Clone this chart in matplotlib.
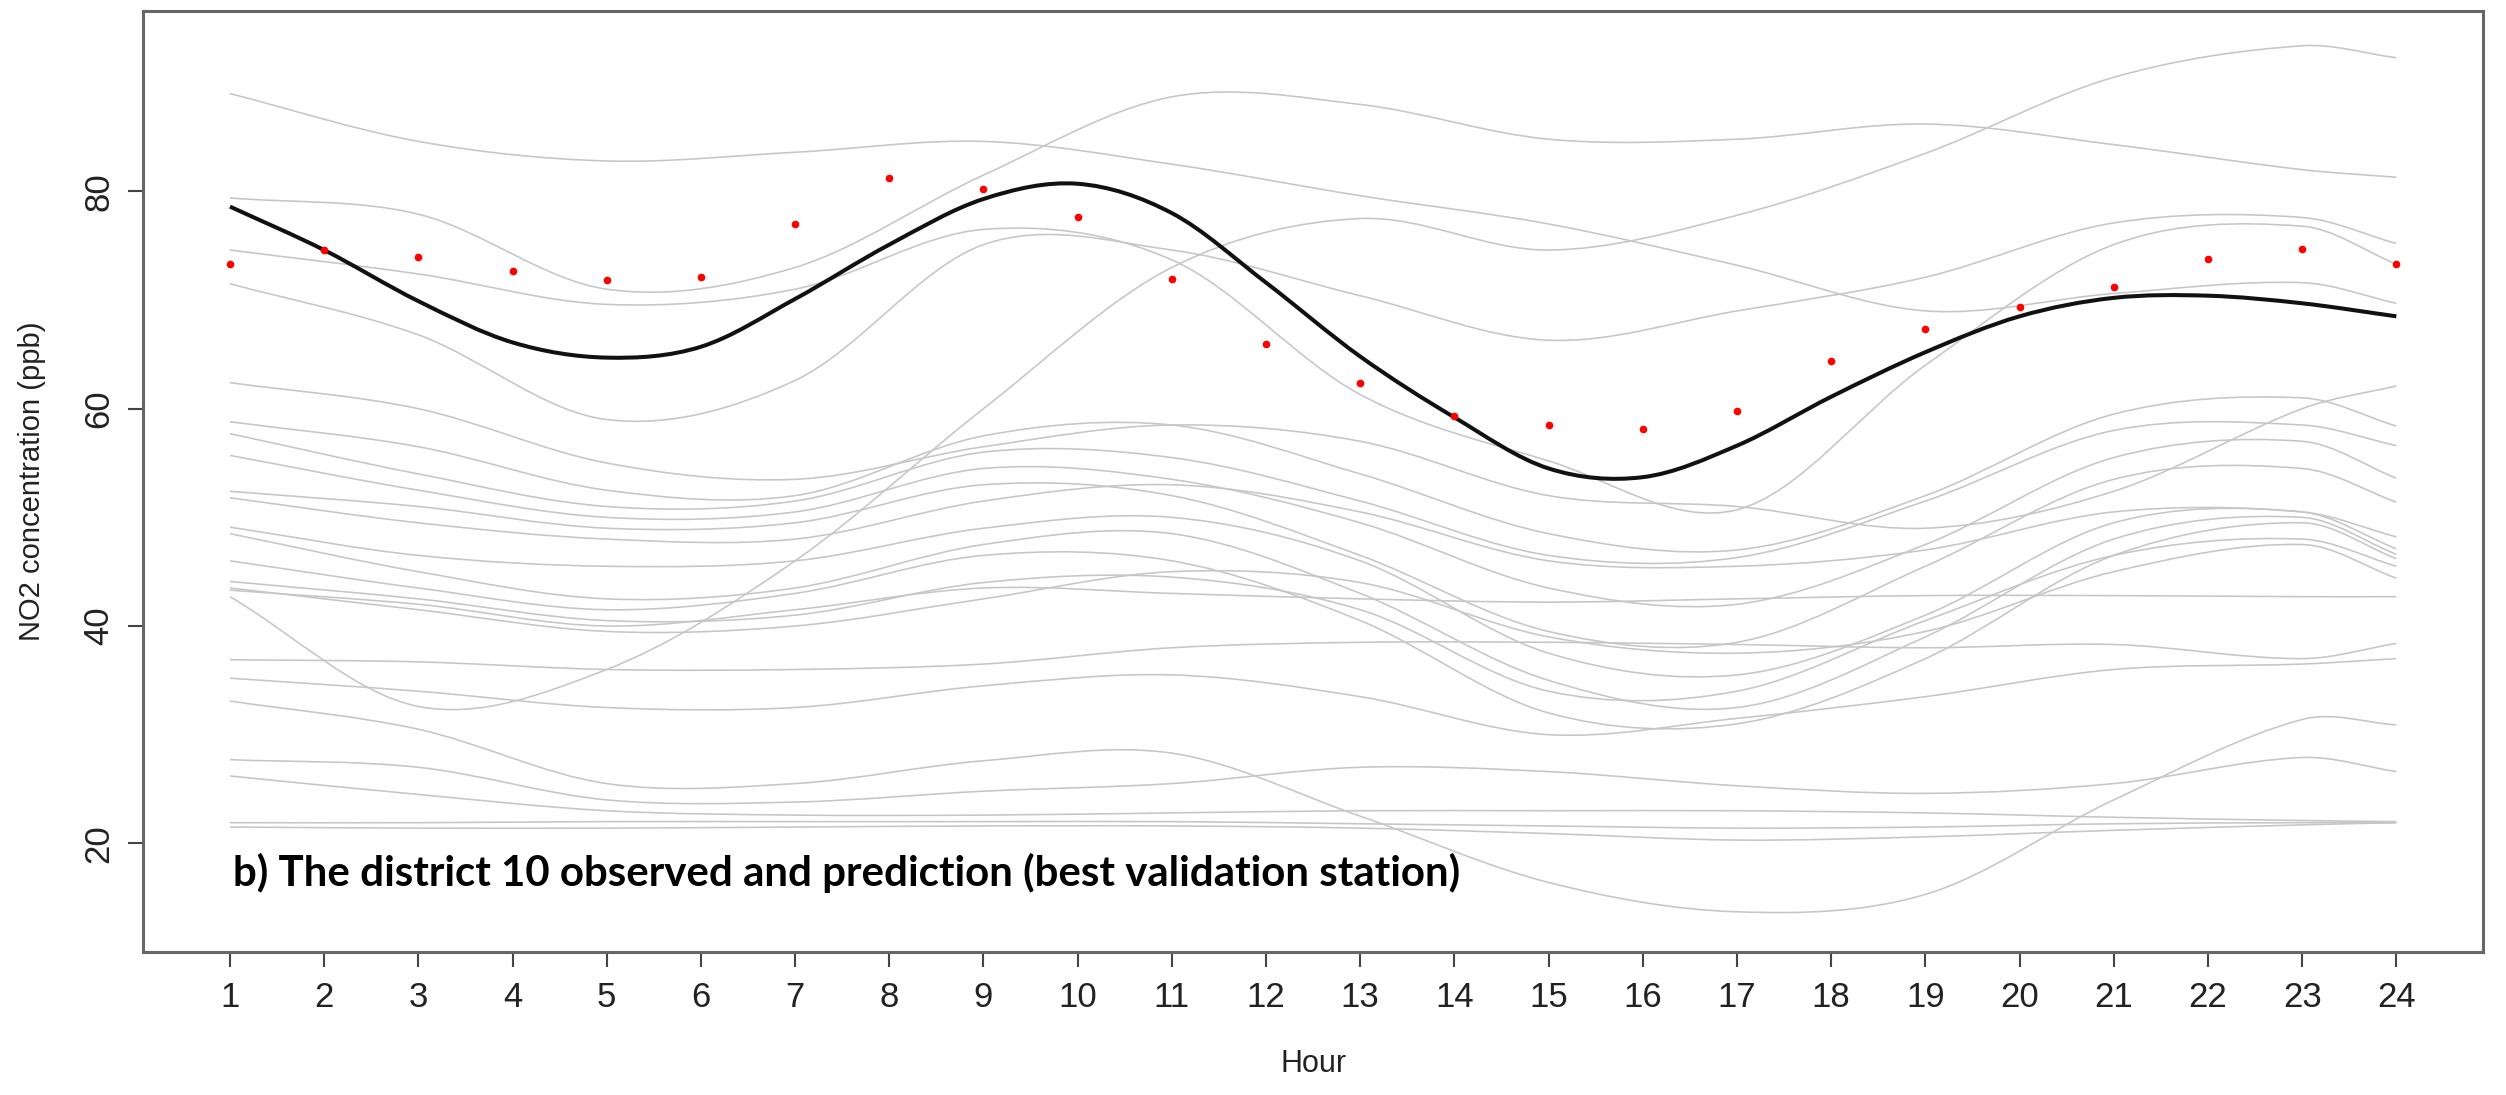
import numpy as np
import matplotlib
matplotlib.use("Agg")
import matplotlib.pyplot as plt
from matplotlib.path import Path
from matplotlib.patches import PathPatch

# ---------------- data ----------------
hours = list(range(1, 25))
hour_labels = [str(h) for h in hours]
y_ticks = [20, 40, 60, 80]

observed = [73.3, 74.6, 74.0, 72.7, 71.8, 72.1, 77.0, 81.2, 80.2, 77.6, 71.9, 66.0,
            62.4, 59.3, 58.5, 58.1, 59.8, 64.4, 67.3, 69.4, 71.2, 73.8, 74.7, 73.3]
predicted = [78.6, 74.6, 69.9, 66.1, 64.7, 65.7, 70.1, 75.1, 79.3, 80.7, 78.0, 71.6,
             64.8, 59.2, 54.5, 53.7, 56.6, 61.1, 65.2, 68.5, 70.2, 70.4, 69.7, 68.5]

# other stations' curves, read at these hours
station_hours = [1, 3, 5, 7, 9, 11, 13, 15, 17, 19, 21, 23, 24]
st_t1 = [89.0, 84.6, 82.8, 83.6, 84.6, 82.5, 79.6, 77.0, 73.2, 69.0, 70.6, 71.6, 69.7]
st_t2 = [79.4, 77.9, 71.0, 73.0, 81.5, 88.7, 88.0, 84.8, 84.8, 86.2, 84.3, 82.0, 81.3]
st_r1 = [42.7, 32.6, 36.0, 46.0, 60.0, 73.0, 77.5, 74.6, 77.8, 83.5, 90.5, 93.4, 92.3]
st_l71 = [71.5, 66.8, 59.0, 62.6, 75.1, 74.6, 70.4, 66.3, 69.0, 72.1, 77.1, 77.6, 75.2]
st_t4 = [74.6, 72.4, 69.6, 71.0, 76.5, 73.7, 61.3, 55.2, 50.7, 64.0, 75.1, 76.8, 73.3]
st_c1 = [62.4, 60.0, 55.0, 53.5, 56.5, 58.5, 57.0, 52.0, 51.0, 49.0, 52.4, 60.0, 62.1]
st_c2 = [58.8, 56.5, 52.5, 52.0, 57.5, 58.5, 54.0, 48.5, 47.0, 52.0, 59.5, 61.0, 58.4]
st_c3 = [57.7, 54.0, 51.0, 51.5, 56.0, 55.5, 51.5, 46.5, 46.3, 51.5, 58.0, 58.5, 56.6]
st_c4 = [55.7, 52.5, 50.0, 50.5, 54.5, 53.5, 49.5, 43.5, 42.0, 47.5, 55.5, 57.0, 53.6]
st_c5 = [52.4, 51.0, 49.0, 49.5, 53.0, 52.0, 46.5, 39.5, 38.5, 45.5, 53.5, 54.5, 51.4]
st_c6 = [51.8, 49.5, 48.0, 48.0, 51.5, 53.0, 50.5, 46.0, 45.5, 47.0, 50.5, 50.5, 48.2]
st_c7 = [49.1, 46.5, 45.5, 46.0, 49.0, 50.0, 46.0, 37.5, 35.5, 41.0, 49.5, 50.5, 47.1]
st_c8 = [48.5, 45.0, 42.5, 43.5, 47.5, 48.5, 43.0, 35.0, 32.5, 39.0, 48.0, 50.0, 46.6]
st_c9 = [46.0, 43.5, 41.5, 43.0, 46.5, 46.0, 40.5, 32.0, 31.0, 37.0, 46.5, 49.5, 46.2]
st_c10 = [44.1, 42.5, 40.5, 41.0, 44.0, 44.5, 41.5, 34.0, 34.0, 40.5, 46.5, 48.0, 45.5]
st_c11 = [43.5, 41.5, 39.5, 40.0, 42.5, 45.0, 44.0, 39.0, 37.5, 39.5, 45.0, 47.5, 44.4]
st_c12 = [43.3, 42.0, 40.0, 41.5, 43.5, 43.0, 42.5, 42.2, 42.5, 42.8, 42.8, 42.7, 42.7]
st_c13 = [36.9, 36.7, 36.0, 36.0, 36.5, 38.0, 38.5, 38.5, 38.3, 38.0, 38.3, 37.0, 38.4]
st_c14 = [35.2, 34.0, 32.5, 32.5, 34.5, 35.5, 33.5, 30.0, 31.5, 33.5, 36.0, 36.5, 37.0]
st_d = [33.1, 30.5, 25.5, 25.5, 27.6, 28.3, 22.5, 16.4, 13.7, 15.3, 24.0, 31.4, 30.9]
st_b1 = [27.7, 27.0, 24.0, 23.8, 24.8, 25.5, 27.0, 26.6, 25.3, 24.6, 25.5, 27.9, 26.6]
st_b2 = [26.2, 24.5, 23.0, 22.6, 22.6, 22.8, 23.0, 23.0, 23.0, 22.8, 22.4, 22.1, 22.0]
st_b3 = [21.9, 21.9, 22.0, 22.0, 22.0, 22.0, 21.8, 21.6, 21.4, 21.5, 21.8, 21.9, 21.9]
st_b4 = [21.5, 21.4, 21.4, 21.5, 21.6, 21.6, 21.4, 20.9, 20.3, 20.6, 21.2, 21.7, 21.9]

stations = [st_t1, st_t2, st_r1, st_l71, st_t4, st_c1, st_c2, st_c3, st_c4, st_c5,
            st_c6, st_c7, st_c8, st_c9, st_c10, st_c11, st_c12, st_c13, st_c14,
            st_d, st_b1, st_b2, st_b3, st_b4]

title_text = "b) The district 10 observed and prediction (best validation station)"


# ---------------- drawing helpers ----------------
def smooth_path(xs, ys):
    """Catmull-Rom curve through the points, drawn as cubic Bezier segments."""
    p = np.column_stack([xs, ys]).astype(float)
    n = len(p)
    verts = [p[0]]
    codes = [Path.MOVETO]
    for i in range(n - 1):
        p0 = p[i - 1] if i > 0 else p[i]
        p1 = p[i]
        p2 = p[i + 1]
        p3 = p[i + 2] if i + 2 < n else p[i + 1]
        h = p2[0] - p1[0]
        h0 = (p2[0] - p0[0]) if i > 0 else h
        h1 = (p3[0] - p1[0]) if i + 2 < n else h
        t1 = (p2 - p0) / max(h0, 1e-9) * h / 3.0
        t2 = (p3 - p1) / max(h1, 1e-9) * h / 3.0
        verts += [p1 + t1, p2 - t2, p2]
        codes += [Path.CURVE4, Path.CURVE4, Path.CURVE4]
    return Path(verts, codes)


fig = plt.figure(figsize=(25.06, 10.95), dpi=100)
ax = fig.add_axes([143.3 / 2506, 143 / 1095, (2483 - 143.3) / 2506, (1084 - 143) / 1095])

grey = "#c6c6c6"
for s in stations:
    ax.add_patch(PathPatch(smooth_path(station_hours, s), facecolor="none",
                           edgecolor=grey, lw=1.15, zorder=1))

ax.add_patch(PathPatch(smooth_path(hours, predicted), facecolor="none",
                       edgecolor="#111111", lw=2.9, zorder=3))
ax.plot(hours, observed, linestyle="none", marker="o", ms=4.5,
        color="#ff0000", mec="#ff0000", zorder=4)

ax.set_xlim(0.08, 24.92)
ax.set_ylim(10.0, 96.6)
ax.set_xticks(hours)
ax.set_xticklabels(hour_labels)
ax.set_yticks(y_ticks)

tick_font = "Liberation Sans"
ax.tick_params(axis="both", direction="out", length=11, width=1.5,
               colors="#444444", labelcolor="#222222", labelsize=25)
ax.tick_params(axis="x", pad=10)
ax.tick_params(axis="y", pad=9)
for lab in ax.get_xticklabels():
    lab.set_family(tick_font)
for lab in ax.get_yticklabels():
    lab.set_family(tick_font)
    lab.set_rotation(90)
    lab.set_va("center")

for sp in ax.spines.values():
    sp.set_color("#666666")
    sp.set_linewidth(2.2)

ax.set_xlabel("Hour", fontsize=22, family=tick_font, color="#222222")
ax.set_ylabel("NO2 concentration (ppb)", fontsize=21, family=tick_font, color="#222222")
ax.xaxis.label.set_va("center")
ax.yaxis.label.set_va("center")
ax.xaxis.set_label_coords(0.5, (31 - 143) / 941)
ax.yaxis.set_label_coords((32 - 143.3) / 2339.7, 0.5)

txt = ax.text(1.03, 17.25, title_text, fontsize=24, fontweight="bold",
              family=["Lato", "DejaVu Sans"], color="#000000", ha="left", va="center",
              zorder=5)
fig.canvas.draw()
w = txt.get_window_extent().width
txt.set_fontsize(24 * 1229.0 / w)

fig.savefig("out.png", dpi=100, facecolor="white")
